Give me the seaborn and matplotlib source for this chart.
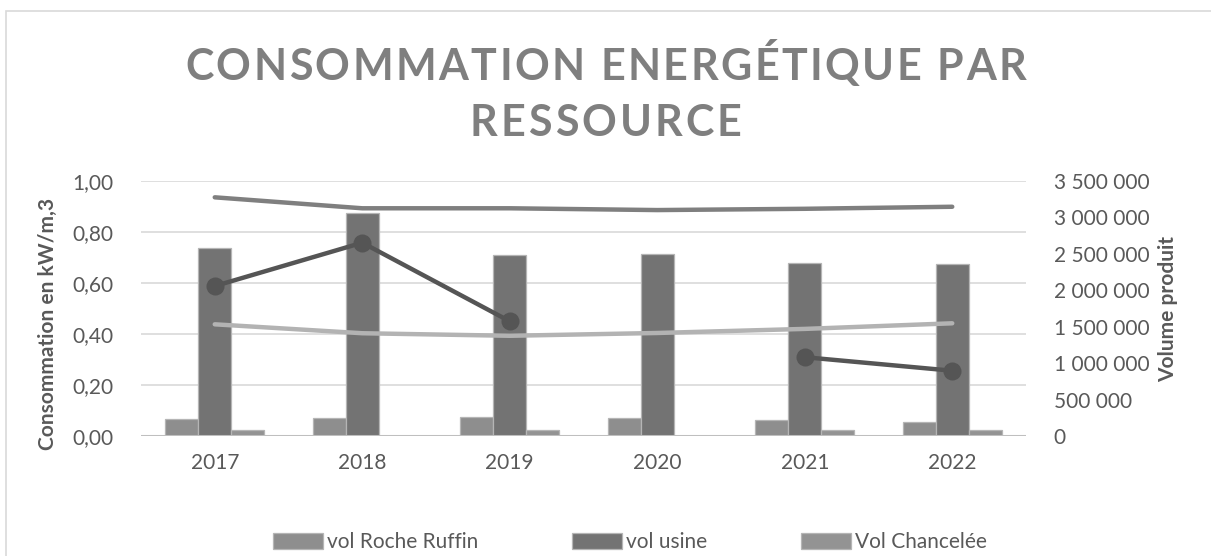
import numpy as np
import pandas as pd
import matplotlib
matplotlib.use("Agg")
import matplotlib.pyplot as plt
from matplotlib.patches import Rectangle, Patch
from matplotlib.font_manager import FontProperties
import seaborn as sns

# ---- data -------------------------------------------------------------
years = ["2017", "2018", "2019", "2020", "2021", "2022"]

# produced volumes (right axis, m3)
vol_roche_ruffin = [229000, 251000, 261000, 251000, 224000, 192000]
vol_usine = [2576000, 3057000, 2485000, 2498000, 2370000, 2357000]
vol_chancelee = [78000, 0, 78000, 0, 78000, 82000]

# energy consumption (left axis, kW/m3)
conso_haut = [0.936, 0.893, 0.893, 0.886, 0.891, 0.899]
conso_bas = [0.438, 0.403, 0.393, 0.404, 0.420, 0.442]
conso_points = [0.588, 0.758, 0.450, np.nan, 0.309, 0.256]

bar_series = ["vol Roche Ruffin", "vol usine", "Vol Chancelée"]
bar_values = [vol_roche_ruffin, vol_usine, vol_chancelee]

title_lines = ["CONSOMMATION ENERGÉTIQUE PAR", "RESSOURCE"]

# ---- style ------------------------------------------------------------
sns.set_theme(style="white")
plt.rcParams["font.family"] = ["Lato", "DejaVu Sans"]
TXT = "#595959"

bars_df = pd.DataFrame({
    "annee": np.tile(years, len(bar_series)),
    "serie": np.repeat(bar_series, len(years)),
    "volume": np.concatenate(bar_values),
})

pos = np.arange(len(years))

W, H = 1211, 556
fig = plt.figure(figsize=(W / 100, H / 100), dpi=100)
ax_bar = fig.add_axes([141 / W, 1 - 436 / H, (1026 - 141) / W, (436 - 181) / H])
ax_line = ax_bar.twinx()

# chart frame
fig.patches.append(Rectangle((6 / W, -0.1), 2.0, 1.1 - 11 / H,
                             transform=fig.transFigure, fill=False,
                             edgecolor="#d9d9d9", linewidth=1.2, zorder=0))

# ---- bars on the volume axis -----------------------------------------
bar_colors = ["#8e8e8e", "#737373", "#939393"]
sns.barplot(data=bars_df, x="annee", y="volume", hue="serie",
            hue_order=bar_series, palette=bar_colors, width=0.67,
            ax=ax_bar, legend=False, saturation=1, zorder=3)
for patch in ax_bar.patches:
    patch.set_edgecolor("#b5b5b5")
    patch.set_linewidth(0.9)

ax_bar.set_ylim(0, 3500000)
ax_bar.set_xlim(-0.5, len(years) - 0.5)
ax_bar.set_yticks(np.arange(0, 3500001, 500000))
ax_bar.set_yticklabels([f"{v:,}".replace(",", " ") for v in range(0, 3500001, 500000)])
ax_bar.yaxis.tick_right()
ax_bar.yaxis.set_label_position("right")
ax_bar.set_ylabel("Volume produit", fontsize=15, fontweight="bold", color=TXT, labelpad=6)
ax_bar.set_xlabel("")
ax_bar.tick_params(axis="both", length=0, labelsize=15, colors=TXT)
ax_bar.tick_params(axis="x", pad=12)
ax_bar.tick_params(axis="y", pad=20)
ax_bar.grid(False)
for s in ax_bar.spines.values():
    s.set_visible(False)

# ---- consumption lines ---------------------------------------------
def line_frame(values):
    v = pd.Series(values, dtype=float)
    seg = v.isna().cumsum()
    return pd.DataFrame({"x": pos, "y": v, "seg": seg}).dropna()

sns.lineplot(data=line_frame(conso_haut), x="x", y="y", color="#7f7f7f",
             linewidth=3.2, ax=ax_line, solid_capstyle="round")
sns.lineplot(data=line_frame(conso_bas), x="x", y="y", color="#b3b3b3",
             linewidth=3.2, ax=ax_line, solid_capstyle="round")
sns.lineplot(data=line_frame(conso_points), x="x", y="y", units="seg",
             estimator=None, color="#555555", linewidth=3.2, marker="o",
             markersize=13, markeredgewidth=0, ax=ax_line)

ax_line.set_ylim(0, 1.0)
ax_line.set_yticks(np.arange(0, 1.01, 0.2))
ax_line.set_yticklabels([f"{v:.2f}".replace(".", ",") for v in np.arange(0, 1.01, 0.2)])
ax_line.yaxis.tick_left()
ax_line.yaxis.set_label_position("left")
ax_line.set_ylabel("Consommation en kW/m,3", fontsize=15, fontweight="bold", color=TXT, labelpad=4)
ax_line.yaxis.set_label_coords(-0.094, 0.44)
ax_line.set_xlabel("")
ax_line.tick_params(axis="both", length=0, labelsize=15, colors=TXT)
ax_line.tick_params(axis="y", pad=20)
ax_line.grid(False)
for s in ax_line.spines.values():
    s.set_visible(False)

# gridlines and baseline
for v in np.arange(0.2, 1.01, 0.2):
    ax_bar.axhline(v * 3500000, color="#d9d9d9", linewidth=1.2, zorder=1)
ax_bar.axhline(0, color="#bfbfbf", linewidth=2.2, zorder=4)
ax_bar.set_xticks(pos)
ax_bar.set_xticklabels(years)

# ---- letter-spaced title ---------------------------------------------
title_font = FontProperties(family=["Lato", "DejaVu Sans"], weight="bold", size=31)
renderer = fig.canvas.get_renderer()


def spaced_text(line, y_px, total_px):
    widths = [renderer.get_text_width_height_descent(ch, title_font, ismath=False)[0]
              for ch in line]
    gap = (total_px - sum(widths)) / (len(line) - 1)
    x = (W - total_px) / 2
    for ch, w in zip(line, widths):
        fig.text(x / W, 1 - y_px / H, ch, ha="left", va="baseline",
                 fontproperties=title_font, color="#7f7f7f")
        x += w + gap


spaced_text(title_lines[0], 80, 841)
spaced_text(title_lines[1], 136, 272)

# ---- legend -----------------------------------------------------------
handles = [Patch(facecolor=c, edgecolor="#b5b5b5", linewidth=0.9) for c in bar_colors]
fig.legend(handles, bar_series, loc="center", bbox_to_anchor=(0.52, 1 - 542 / H),
           ncol=3, frameon=False, fontsize=15, labelcolor=TXT,
           handlelength=2.4, handleheight=0.8, handletextpad=0.2, columnspacing=4.5)

fig.savefig("out.png", dpi=100)
